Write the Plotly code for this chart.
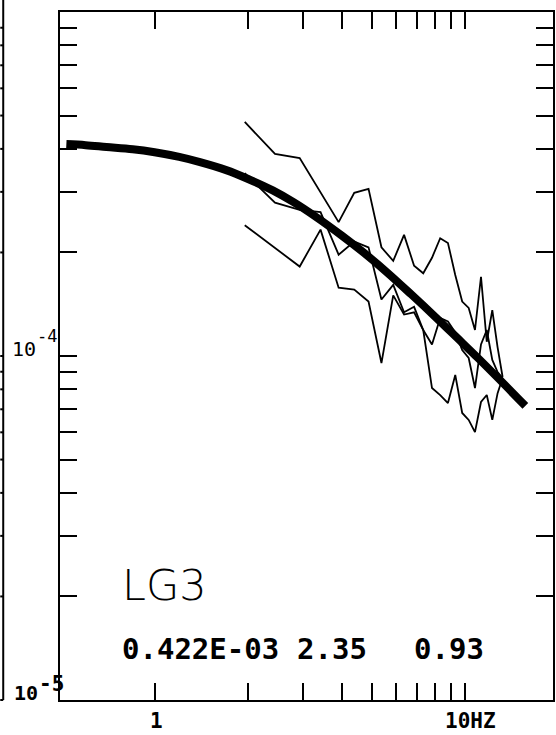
import plotly.graph_objects as go

# Observed amplitude spectra, sampled every 0.488 Hz (Hz, amplitude)
freq_obs = [1.95, 2.44, 2.93, 3.42, 3.91, 4.39, 4.88, 5.37, 5.86, 6.35, 6.84, 7.32,
            7.81, 8.30, 8.79, 9.28, 9.77, 10.25, 10.74, 11.23, 11.72, 12.21, 12.70, 13.18]
spec_a = [4.79e-4, 3.87e-4, 3.76e-4, 3.00e-4, 2.45e-4, 2.98e-4, 3.06e-4, 2.07e-4,
          1.89e-4, 2.25e-4, 1.83e-4, 1.74e-4, 1.93e-4, 2.20e-4, 2.13e-4, 1.72e-4,
          1.44e-4, 1.38e-4, 1.19e-4, 1.70e-4, 1.10e-4, 1.36e-4, 1.06e-4, 8.69e-5]
spec_b = [3.40e-4, 2.79e-4, 2.66e-4, 2.62e-4, 1.97e-4, 2.15e-4, 2.07e-4, 1.46e-4,
          1.61e-4, 1.34e-4, 1.39e-4, 1.19e-4, 1.08e-4, 1.29e-4, 1.26e-4, 1.17e-4,
          1.04e-4, 9.87e-5, 8.07e-5, 1.08e-4, 1.19e-4, 9.74e-5, 8.98e-5, 8.63e-5]
spec_c = [2.40e-4, 2.06e-4, 1.82e-4, 2.33e-4, 1.58e-4, 1.56e-4, 1.44e-4, 9.54e-5,
          1.50e-4, 1.32e-4, 1.34e-4, 1.19e-4, 8.07e-5, 7.70e-5, 7.30e-5, 8.81e-5,
          6.83e-5, 6.52e-5, 6.01e-5, 7.35e-5, 7.70e-5, 6.52e-5, 7.80e-5, 8.63e-5]

# Fitted source spectrum (heavy curve)
freq_fit = [0.52, 0.6, 0.7, 0.85, 1.0, 1.2, 1.4, 1.7, 2.0, 2.4, 2.8, 3.3, 4.0, 4.7,
            5.6, 6.7, 8.0, 9.4, 11.0, 13.0, 15.6]
amp_fit = [4.13e-4, 4.10e-4, 4.05e-4, 3.99e-4, 3.91e-4, 3.79e-4, 3.66e-4, 3.47e-4,
           3.27e-4, 3.03e-4, 2.80e-4, 2.54e-4, 2.24e-4, 2.00e-4, 1.75e-4, 1.51e-4,
           1.30e-4, 1.13e-4, 0.985e-4, 0.847e-4, 0.716e-4]

station = "LG3"
fit_params = ["0.422E-03", "2.35", "0.93"]

x_ticks = [1, 2, 3, 4, 5, 6, 7, 8, 9, 10]
y_ticks = [2e-5, 3e-5, 4e-5, 5e-5, 6e-5, 7e-5, 8e-5, 9e-5, 1e-4,
           2e-4, 3e-4, 4e-4, 5e-4, 6e-4, 7e-4, 8e-4, 9e-4]

W, H = 556, 735
L, R, T, B = 60, 1, 12, 35
PW, PH = W - L - R, H - T - B


def px(x):
    return (x - L) / PW


def py(y):
    return (H - B - y) / PH


fig = go.Figure()
for s in (spec_a, spec_b, spec_c):
    fig.add_trace(go.Scatter(x=freq_obs, y=s, mode="lines",
                             line=dict(color="black", width=1.8),
                             hoverinfo="skip", showlegend=False))
fig.add_trace(go.Scatter(x=freq_fit, y=amp_fit, mode="lines",
                         line=dict(color="black", width=8, shape="spline"),
                         hoverinfo="skip", showlegend=False))

axis_common = dict(showgrid=False, zeroline=False, showline=True, linecolor="black",
                   linewidth=2, mirror="ticks", ticks="inside", ticklen=17,
                   tickwidth=2, tickcolor="black", showticklabels=False)
fig.update_xaxes(type="log", range=[-0.3045, 1.2821], tickvals=x_ticks, **axis_common)
fig.update_yaxes(type="log", range=[-5, -3], tickvals=y_ticks, **axis_common)

mono = "DejaVu Sans Mono"
ann = []
ann.append(dict(x=px(120), y=py(585), text=station, xanchor="left", yanchor="middle",
                font=dict(family="DejaVu Sans", size=43, color="black", weight=200)))
for txt, left in zip(fit_params, [120, 296, 413]):
    ann.append(dict(x=px(left), y=py(649), text=txt, xanchor="left", yanchor="middle",
                    font=dict(family=mono, size=29, color="black", weight="bold")))
# decade labels: mantissa and exponent set at nearly equal size
ann.append(dict(x=px(10), y=py(349), text="10", xanchor="left", yanchor="middle",
                font=dict(family=mono, size=20, color="black")))
ann.append(dict(x=px(35), y=py(336), text="-4", xanchor="left", yanchor="middle",
                font=dict(family=mono, size=17, color="black")))
ann.append(dict(x=px(12), y=py(693), text="10", xanchor="left", yanchor="middle",
                font=dict(family=mono, size=20, color="black", weight="bold")))
ann.append(dict(x=px(37), y=py(684), text="-5", xanchor="left", yanchor="middle",
                font=dict(family=mono, size=21, color="black", weight="bold")))
ann.append(dict(x=px(157), y=py(721), text="1", xanchor="center", yanchor="middle",
                font=dict(family=mono, size=21, color="black", weight="bold")))
ann.append(dict(x=px(445), y=py(721), text="10HZ", xanchor="left", yanchor="middle",
                font=dict(family=mono, size=21, color="black", weight="bold")))
for a in ann:
    a.update(xref="paper", yref="paper", showarrow=False)

# edge of the neighbouring panel on the left
shapes = [dict(type="line", xref="paper", yref="paper", x0=px(3), x1=px(3),
               y0=py(0), y1=py(700), line=dict(color="black", width=2)),
          dict(type="line", xref="paper", yref="paper", x0=px(0), x1=px(3),
               y0=py(700), y1=py(700), line=dict(color="black", width=2))]
for v in y_ticks:
    shapes.append(dict(type="line", xref="paper", yref="y", x0=px(0), x1=px(3),
                       y0=v, y1=v, line=dict(color="black", width=2)))

fig.update_layout(width=W, height=H, margin=dict(l=L, r=R, t=T, b=B),
                  paper_bgcolor="white", plot_bgcolor="white",
                  annotations=ann, shapes=shapes, showlegend=False)
fig.write_html("out.html")
